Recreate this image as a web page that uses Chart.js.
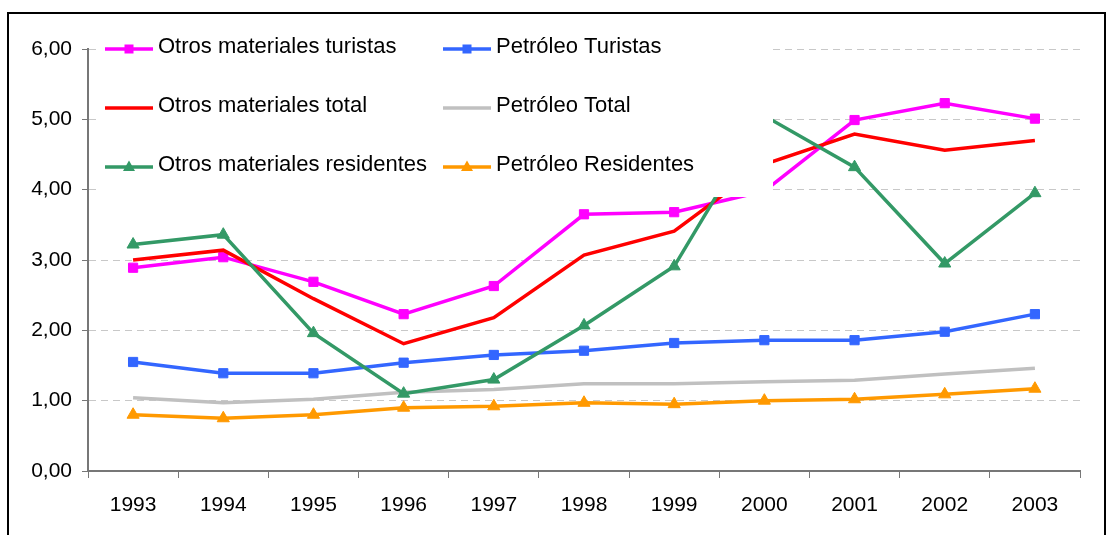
<!DOCTYPE html>
<html>
<head>
<meta charset="utf-8">
<script src="https://cdn.jsdelivr.net/npm/chart.js@4/dist/chart.umd.min.js"></script>
<style>
    body { margin: 0; background: #fff; }
    #wrap { position: relative; width: 1111px; height: 535px; overflow: hidden; }
    #frame {
        position: absolute; left: 7px; top: 12px; width: 1095px; height: 600px;
        border: 2px solid #000; pointer-events: none;
    }
</style>
</head>
<body>
<div id="wrap">
    <canvas id="chart" width="1111" height="535"></canvas>
    <div id="frame"></div>
</div>
<script>
// years on the x axis
const years = ['1993', '1994', '1995', '1996', '1997', '1998', '1999', '2000', '2001', '2002', '2003'];

// series values
const otrosTuristas = [2.89, 3.04, 2.69, 2.23, 2.63, 3.65, 3.68, 3.98, 4.99, 5.23, 5.01];
const petroleoTuristas = [1.55, 1.39, 1.39, 1.54, 1.65, 1.71, 1.82, 1.86, 1.86, 1.98, 2.23];
const otrosTotal = [3.00, 3.14, 2.45, 1.81, 2.18, 3.07, 3.41, 4.36, 4.79, 4.56, 4.70];
const petroleoTotal = [1.04, 0.97, 1.02, 1.12, 1.16, 1.24, 1.24, 1.27, 1.29, 1.38, 1.46];
const otrosResidentes = [3.22, 3.36, 1.96, 1.10, 1.30, 2.07, 2.91, 5.05, 4.32, 2.95, 3.95];
const petroleoResidentes = [0.80, 0.75, 0.80, 0.90, 0.92, 0.97, 0.95, 1.00, 1.02, 1.09, 1.17];

const FONT = '"Liberation Sans", Arial, sans-serif';

function series(label, data, color, style, order) {
    return {
        label: label,
        data: data,
        borderColor: color,
        backgroundColor: color,
        borderWidth: 3.5,
        tension: 0,
        pointStyle: style || false,
        pointRadius: style ? (style === 'triangle' ? 7 : 6.5) : 0,
        pointBackgroundColor: color,
        pointBorderColor: color,
        pointBorderWidth: 1,
        order: order
    };
}

// legend drawn over the plot with a white box, like the excel one
const legendBox = {
    id: 'legendBox',
    afterDatasetsDraw(chart) {
        const ctx = chart.ctx;
        ctx.save();
        ctx.fillStyle = '#fff';
        ctx.fillRect(97, 22, 676, 175);
        ctx.font = '22px ' + FONT;
        ctx.textBaseline = 'middle';
        chart.data.datasets.forEach((ds, i) => {
            const x = 105 + (i % 2) * 338;
            const y = 49 + Math.floor(i / 2) * 59;
            ctx.strokeStyle = ds.borderColor;
            ctx.lineWidth = 3.5;
            ctx.beginPath();
            ctx.moveTo(x, y);
            ctx.lineTo(x + 48, y);
            ctx.stroke();
            ctx.fillStyle = ds.borderColor;
            const cx = x + 24;
            if (ds.pointStyle === 'rect') {
                ctx.fillRect(cx - 4.5, y - 4.5, 9, 9);
            } else if (ds.pointStyle === 'triangle') {
                ctx.beginPath();
                ctx.moveTo(cx, y - 6.5);
                ctx.lineTo(cx + 6, y + 4);
                ctx.lineTo(cx - 6, y + 4);
                ctx.closePath();
                ctx.fill();
            }
            ctx.fillStyle = '#000';
            ctx.fillText(ds.label, x + 53, y - 2);
        });
        ctx.restore();
    }
};

const ctx = document.getElementById('chart').getContext('2d');

new Chart(ctx, {
    type: 'line',
    data: {
        labels: years,
        datasets: [
            series('Otros materiales turistas', otrosTuristas, '#FF00FF', 'rect', 6),
            series('Petróleo Turistas', petroleoTuristas, '#3366FF', 'rect', 5),
            series('Otros materiales total', otrosTotal, '#FF0000', null, 4),
            series('Petróleo Total', petroleoTotal, '#C0C0C0', null, 3),
            series('Otros materiales residentes', otrosResidentes, '#339966', 'triangle', 2),
            series('Petróleo Residentes', petroleoResidentes, '#FF9900', 'triangle', 1)
        ]
    },
    options: {
        responsive: false,
        devicePixelRatio: 1,
        animation: false,
        layout: {
            padding: { top: 49, right: 31, left: 0, bottom: 0 }
        },
        plugins: {
            legend: { display: false },
            title: { display: false },
            tooltip: { enabled: false }
        },
        scales: {
            x: {
                offset: true,
                grid: {
                    offset: true,
                    drawOnChartArea: false,
                    drawTicks: true,
                    tickLength: 7,
                    tickColor: '#777',
                    tickWidth: 1
                },
                border: { color: '#777', width: 2 },
                ticks: {
                    color: '#000',
                    padding: 15,
                    maxRotation: 0,
                    font: { family: FONT, size: 21 }
                },
                afterFit: function (scale) {
                    scale.height = 64;
                }
            },
            y: {
                min: 0,
                max: 6,
                grid: {
                    color: '#c8c8c8',
                    lineWidth: 1,
                    tickLength: 6,
                    tickColor: '#777'
                },
                border: { color: '#777', width: 2, dash: [7, 5] },
                ticks: {
                    stepSize: 1,
                    color: '#000',
                    padding: 10,
                    font: { family: FONT, size: 21 },
                    callback: function (value) {
                        return value.toFixed(2).replace('.', ',');
                    }
                },
                afterFit: function (scale) {
                    scale.width = 88;
                }
            }
        }
    },
    plugins: [legendBox]
});
</script>
</body>
</html>
